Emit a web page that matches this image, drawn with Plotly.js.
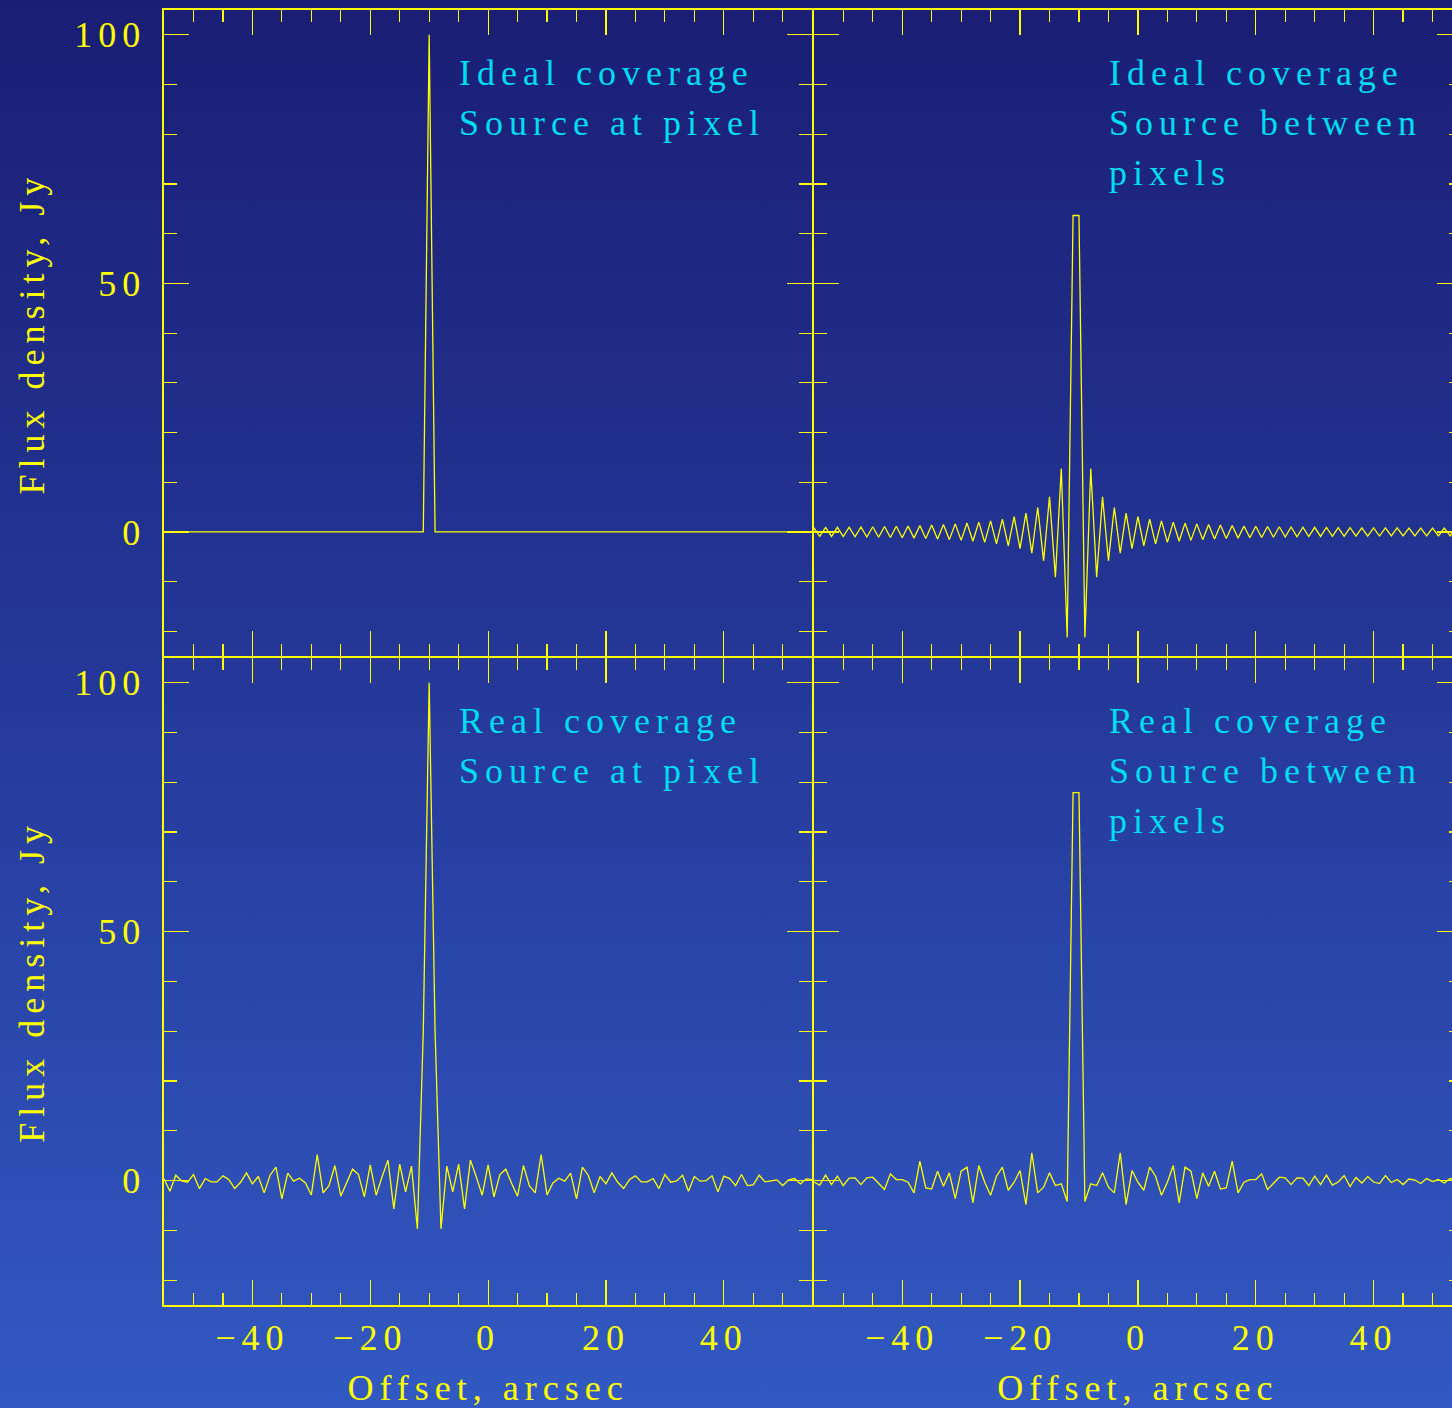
<!DOCTYPE html>
<html>
<head>
<meta charset="utf-8">
<script src="https://cdn.plot.ly/plotly-3.0.1.min.js"></script>
<style>
html, body { margin: 0; padding: 0; overflow: hidden; width: 1452px; height: 1408px; }
body { background: linear-gradient(to bottom, #1a1e74 0%, #25399a 50%, #3259c2 100%); }
#chart { width: 1463px; height: 1408px; }
text { letter-spacing: 6px; }
</style>
</head>
<body>
<div id="chart"></div>
<script>
// Offsets (arcsec), common sampling grid of all four panels
const offsets = [
 -55,-54,-53,-52,-51,-50,-49,-48,-47,-46,
 -45,-44,-43,-42,-41,-40,-39,-38,-37,-36,
 -35,-34,-33,-32,-31,-30,-29,-28,-27,-26,
 -25,-24,-23,-22,-21,-20,-19,-18,-17,-16,
 -15,-14,-13,-12,-11,-10,-9,-8,-7,-6,
 -5,-4,-3,-2,-1,0,1,2,3,4,
 5,6,7,8,9,10,11,12,13,14,
 15,16,17,18,19,20,21,22,23,24,
 25,26,27,28,29,30,31,32,33,34,
 35,36,37,38,39,40,41,42,43,44,
 45,46,47,48,49,50,51,52,53,54,
 55];

// Ideal coverage, source at pixel (Jy)
const idealAtPixel = [
 0,0,0,0,0,0,0,0,0,0,
 0,0,0,0,0,0,0,0,0,0,
 0,0,0,0,0,0,0,0,0,0,
 0,0,0,0,0,0,0,0,0,0,
 0,0,0,0,0,100,0,0,0,0,
 0,0,0,0,0,0,0,0,0,0,
 0,0,0,0,0,0,0,0,0,0,
 0,0,0,0,0,0,0,0,0,0,
 0,0,0,0,0,0,0,0,0,0,
 0,0,0,0,0,0,0,0,0,0,
 0,0,0,0,0,0,0,0,0,0,
 0];

// Ideal coverage, source between pixels (Jy)
const idealBetween = [
 0.88,-0.89,0.90,-0.91,0.93,-0.94,0.96,-0.98,1.00,-1.02,
 1.04,-1.06,1.09,-1.12,1.15,-1.18,1.21,-1.25,1.29,-1.33,
 1.38,-1.43,1.49,-1.55,1.62,-1.70,1.78,-1.88,1.98,-2.10,
 2.24,-2.40,2.59,-2.81,3.07,-3.38,3.77,-4.27,4.92,-5.81,
 7.08,-9.10,12.73,-21.22,63.66,63.66,-21.22,12.73,-9.10,7.08,
 -5.81,4.92,-4.27,3.77,-3.38,3.07,-2.81,2.59,-2.40,2.24,
 -2.10,1.98,-1.88,1.78,-1.70,1.62,-1.55,1.49,-1.43,1.38,
 -1.33,1.29,-1.25,1.21,-1.18,1.15,-1.12,1.09,-1.06,1.04,
 -1.02,1.00,-0.98,0.96,-0.94,0.93,-0.91,0.90,-0.89,0.88,
 -0.87,0.86,-0.85,0.84,-0.83,0.83,-0.82,0.81,-0.81,0.80,
 -0.80,0.79,-0.79,0.79,-0.78,0.78,-0.78,0.78,-0.78,0.78,
 -0.78];

// Real coverage, source at pixel (Jy)
const realAtPixel = [
 0.34,-2.15,1.07,-0.07,-0.34,1.21,-1.61,0.40,-0.27,-0.27,
 0.94,0.20,-1.61,-0.34,1.54,-0.67,0.81,-2.48,1.07,2.68,
 -3.69,1.48,-0.13,0.47,-0.47,-2.89,5.23,-2.48,-1.01,3.02,
 -3.15,-0.60,2.28,1.21,-3.29,3.15,-2.95,0.70,4.10,-5.70,
 3.30,-2.28,2.89,-9.70,30.0,100,30.0,-9.70,2.89,-2.28,
 3.30,-5.70,4.10,0.70,-2.95,3.15,-3.29,1.21,2.28,-0.60,
 -3.15,3.02,-1.01,-2.48,5.23,-2.89,-0.47,0.47,-0.13,1.48,
 -3.69,2.68,1.07,-2.48,0.81,-0.67,1.54,-0.34,-1.61,0.20,
 0.94,-0.27,-0.27,0.40,-1.61,1.21,-0.34,-0.07,1.07,-2.15,
 0.81,-0.13,0.00,0.94,-2.28,0.87,0.40,-1.01,1.21,-1.01,
 -0.87,1.07,-0.27,-0.07,0.13,-1.01,0.13,0.40,-0.67,0.34,
 0.20];

// Real coverage, source between pixels (Jy)
const realBetween = [
 -0.30,-0.90,1.10,-0.80,0.90,-1.00,0.50,0.54,-0.81,0.54,
 0.67,-0.67,-1.81,1.34,0.20,0.20,-0.34,-2.48,3.89,-1.48,
 -1.68,1.88,-1.14,1.54,-3.62,1.88,2.68,-4.50,3.02,-0.34,
 -2.95,0.87,2.68,-1.95,-0.34,2.01,-4.83,5.57,-2.48,-1.34,
 1.54,-1.01,-0.67,-4.20,77.9,77.9,-4.20,-0.67,-1.01,1.54,
 -1.34,-2.48,5.57,-4.83,2.01,-0.34,-1.95,2.68,0.87,-2.95,
 -0.34,3.02,-4.50,2.68,1.88,-3.62,1.54,-1.14,1.88,-1.68,
 -1.48,3.89,-2.48,-0.34,0.20,0.20,1.34,-1.81,-0.67,0.67,
 0.54,-0.81,0.54,0.50,-1.00,0.90,-0.80,1.10,-0.90,-0.30,
 1.00,-1.20,0.60,-0.50,0.80,-0.30,-0.60,1.00,-0.40,0.20,
 -0.80,0.30,0.10,-0.60,0.40,-0.20,0.20,-0.50,0.40,0.10,
 -0.30];

// Panel texts
const panelTextTopLeft = ["Ideal coverage", "Source at pixel"];
const panelTextTopRight = ["Ideal coverage", "Source between", "pixels"];
const panelTextBottomLeft = ["Real coverage", "Source at pixel"];
const panelTextBottomRight = ["Real coverage", "Source between", "pixels"];
const xTitle = "Offset, arcsec";
const yTitle = "Flux density, Jy";
const xTicks = [-40, -20, 0, 20, 40];
const yTicks = [0, 50, 100];

const YEL = "#ffff00";
const CYAN = "#00dcf0";
const FONT = "Liberation Serif";
const FS = 36;
const W = 1463, H = 1408;
const LW = 1.6;

function xax(domainPx, labels) {
  return {
    domain: [domainPx[0] / W, domainPx[1] / W],
    range: [-55, 55], autorange: false,
    showline: true, linecolor: YEL, linewidth: LW, mirror: "ticks",
    ticks: "inside", ticklen: 25, tickwidth: 1.2, tickcolor: YEL,
    tickmode: "array", tickvals: xTicks,
    minor: { dtick: 5, tick0: 0, ticklen: 12, tickwidth: 1.2, tickcolor: YEL, ticks: "inside", showgrid: false },
    showticklabels: labels, ticklabelstandoff: 0,
    tickfont: { family: FONT, size: FS, color: YEL },
    showgrid: false, zeroline: false,
    title: labels ? { text: xTitle, font: { family: FONT, size: FS, color: YEL }, standoff: 20 } : { text: "" }
  };
}
function yax(domainPx, labels) {
  return {
    domain: [1 - domainPx[1] / H, 1 - domainPx[0] / H],
    range: [-25, 105], autorange: false,
    showline: true, linecolor: YEL, linewidth: LW, mirror: "ticks",
    ticks: "inside", ticklen: 25, tickwidth: 1.2, tickcolor: YEL,
    tickmode: "array", tickvals: yTicks,
    minor: { dtick: 10, tick0: 0, ticklen: 13, tickwidth: 1.2, tickcolor: YEL, ticks: "inside", showgrid: false },
    showticklabels: labels, ticklabelstandoff: 9,
    tickfont: { family: FONT, size: FS, color: YEL },
    showgrid: false, zeroline: false,
    title: labels ? { text: yTitle, font: { family: FONT, size: FS, color: YEL }, standoff: 18 } : { text: "" }
  };
}

// panel edges in pixels; shared borders overlap by the line width so the two axis lines coincide
const LEFT = [164, 813 - LW / 2], RIGHT = [813 + LW / 2, 1462];
const TOP = [10, 657 - LW / 2], BOTTOM = [657 + LW / 2, 1305];

const line = { color: YEL, width: 1.3 };
const traces = [
  { x: offsets, y: idealAtPixel, xaxis: "x", yaxis: "y", mode: "lines", line: line, hoverinfo: "skip" },
  { x: offsets, y: idealBetween, xaxis: "x2", yaxis: "y2", mode: "lines", line: line, hoverinfo: "skip" },
  { x: offsets, y: realAtPixel, xaxis: "x3", yaxis: "y3", mode: "lines", line: line, hoverinfo: "skip" },
  { x: offsets, y: realBetween, xaxis: "x4", yaxis: "y4", mode: "lines", line: line, hoverinfo: "skip" }
];

const textY = [92.3, 82.3, 72.3];
const annotations = [];
function addText(lines, xa, ya) {
  lines.forEach((t, i) => {
    annotations.push({
      text: t, xref: xa, yref: ya, x: -5.2, y: textY[i],
      xanchor: "left", yanchor: "middle", showarrow: false,
      font: { family: FONT, size: FS, color: CYAN }
    });
  });
}
addText(panelTextTopLeft, "x", "y");
addText(panelTextTopRight, "x2", "y2");
addText(panelTextBottomLeft, "x3", "y3");
addText(panelTextBottomRight, "x4", "y4");

const layout = {
  width: W, height: H,
  margin: { l: 0, r: 0, t: 0, b: 0, pad: 0 },
  paper_bgcolor: "rgba(0,0,0,0)", plot_bgcolor: "rgba(0,0,0,0)",
  showlegend: false,
  xaxis: Object.assign(xax(LEFT, false), { anchor: "y" }),
  yaxis: Object.assign(yax(TOP, true), { anchor: "x" }),
  xaxis2: Object.assign(xax(RIGHT, false), { anchor: "y2" }),
  yaxis2: Object.assign(yax(TOP, false), { anchor: "x2" }),
  xaxis3: Object.assign(xax(LEFT, true), { anchor: "y3" }),
  yaxis3: Object.assign(yax(BOTTOM, true), { anchor: "x3" }),
  xaxis4: Object.assign(xax(RIGHT, true), { anchor: "y4" }),
  yaxis4: Object.assign(yax(BOTTOM, false), { anchor: "x4" }),
  annotations: annotations
};

Plotly.newPlot("chart", traces, layout, { staticPlot: true, displayModeBar: false });
</script>
</body>
</html>
